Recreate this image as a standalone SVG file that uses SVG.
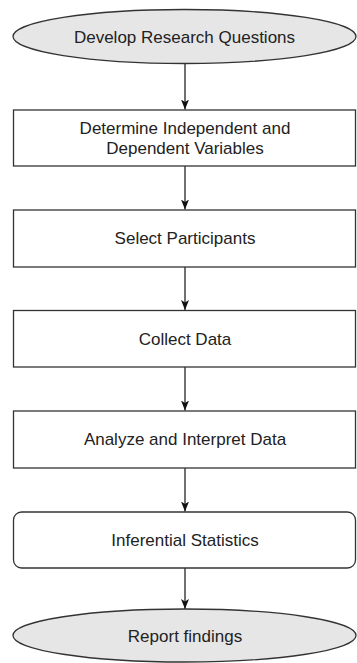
<svg xmlns="http://www.w3.org/2000/svg" width="357" height="663" viewBox="0 0 357 663">
<defs>
<style>
.box{fill:#fff;stroke:#333;stroke-width:1.3}
.term{fill:#e6e6e6;stroke:#333;stroke-width:1.3}
.lbl{font-family:"Liberation Sans",Arial,Helvetica,sans-serif;font-size:17px;fill:#222;text-anchor:middle}
.edge{stroke:#111;stroke-width:1.2;fill:none}
</style>
<marker id="ah" viewBox="0 0 10 10" refX="10" refY="5" markerWidth="10" markerHeight="10" markerUnits="userSpaceOnUse" orient="auto">
<path d="M0,1 L10,5 L0,9 L2.5,5 Z" fill="#111"/>
</marker>
</defs>
<rect width="357" height="663" fill="#fff"/>
<g id="edges">
<line class="edge" x1="185" y1="63.5" x2="185" y2="109.5" marker-end="url(#ah)"/>
<line class="edge" x1="185" y1="166" x2="185" y2="209.5" marker-end="url(#ah)"/>
<line class="edge" x1="185" y1="267" x2="185" y2="310" marker-end="url(#ah)"/>
<line class="edge" x1="185" y1="367" x2="185" y2="410.5" marker-end="url(#ah)"/>
<line class="edge" x1="185" y1="468" x2="185" y2="511.5" marker-end="url(#ah)"/>
<line class="edge" x1="185" y1="568" x2="185" y2="609" marker-end="url(#ah)"/>
</g>
<g id="n1">
<ellipse class="term" cx="184.5" cy="36.5" rx="171.5" ry="27"/>
<text class="lbl" x="184.5" y="42.5">Develop Research Questions</text>
</g>
<g id="n2">
<rect class="box" x="13.5" y="110" width="342" height="56"/>
<text class="lbl" x="185" y="134">Determine Independent and</text>
<text class="lbl" x="185" y="153.5">Dependent Variables</text>
</g>
<g id="n3">
<rect class="box" x="13.5" y="210" width="342" height="57"/>
<text class="lbl" x="185" y="243.5">Select Participants</text>
</g>
<g id="n4">
<rect class="box" x="13.5" y="310.5" width="342" height="56.5"/>
<text class="lbl" x="185" y="344.5">Collect Data</text>
</g>
<g id="n5">
<rect class="box" x="13.5" y="411" width="342" height="57"/>
<text class="lbl" x="185" y="445">Analyze and Interpret Data</text>
</g>
<g id="n6">
<rect class="box" x="13.5" y="512" width="342" height="56" rx="8" ry="8"/>
<text class="lbl" x="185" y="545.5">Inferential Statistics</text>
</g>
<g id="n7">
<ellipse class="term" cx="184.5" cy="635.5" rx="171.5" ry="26.5"/>
<text class="lbl" x="185" y="641.5">Report findings</text>
</g>
</svg>
